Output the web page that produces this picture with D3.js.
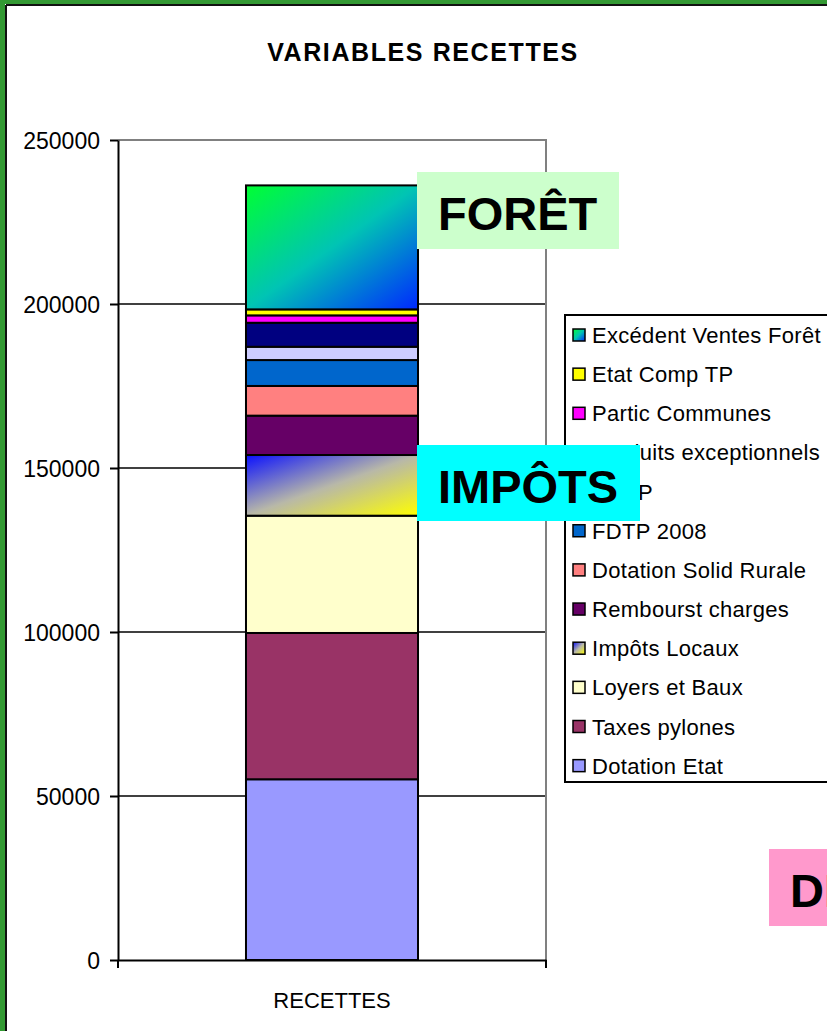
<!DOCTYPE html>
<html>
<head>
<meta charset="utf-8">
<script src="https://cdn.jsdelivr.net/npm/d3@7"></script>
<style>
  body { margin: 0; background: #fff; }
  svg text { font-family: "Liberation Sans", Arial, sans-serif; fill: #000; }
</style>
</head>
<body>
<div id="chart_01"></div>
<script>
// data (stack order: bottom to top)
const categories = ["RECETTES"];
const seriesNames = ["Dotation Etat", "Taxes pylones", "Loyers et Baux", "Impôts Locaux",
    "Rembourst charges", "Dotation Solid Rurale", "FDTP 2008", "DCTP",
    "Produits exceptionnels", "Partic Communes", "Etat Comp TP", "Excédent Ventes Forêt"];
const seriesValues = [55100, 44600, 35760, 18500, 12000, 9050, 7900, 4050, 7320, 2250, 1830, 37800];
const seriesColors = ["#9999FF", "#993366", "#FFFFCC", "url(#gradImpots)", "#660066", "#FF8080",
    "#0066CC", "#CCCCFF", "#000080", "#FF00FF", "#FFFF00", "url(#gradForet)"];
const yTicks = [0, 50000, 100000, 150000, 200000, 250000];
const chartTitle = "VARIABLES RECETTES";
const boxLabels = ["FORÊT", "IMPÔTS", "DÉPENSES"];

window.onload = function () {
    drawChart();
};

function drawChart() {
    let width = 827, height = 1031;

    let svg = d3.select("#chart_01")
        .append("svg")
        .attr("width", width)
        .attr("height", height);

    // gradients used by two of the series
    let defs = svg.append("defs");
    let g1 = defs.append("linearGradient").attr("id", "gradForet")
        .attr("x1", 0).attr("y1", 0).attr("x2", 1).attr("y2", 1);
    g1.append("stop").attr("offset", "0%").attr("stop-color", "#00FF33");
    g1.append("stop").attr("offset", "50%").attr("stop-color", "#00C4B4");
    g1.append("stop").attr("offset", "100%").attr("stop-color", "#0028FF");
    let g2 = defs.append("linearGradient").attr("id", "gradImpots")
        .attr("x1", 0).attr("y1", 0).attr("x2", 1).attr("y2", 1);
    g2.append("stop").attr("offset", "0%").attr("stop-color", "#0A10FF");
    g2.append("stop").attr("offset", "50%").attr("stop-color", "#B8B8A8");
    g2.append("stop").attr("offset", "100%").attr("stop-color", "#FFFF00");

    // green frame (only top and left are visible in the crop)
    svg.append("rect").attr("x", 0).attr("y", 0).attr("width", width).attr("height", 4).attr("fill", "#339933");
    svg.append("rect").attr("x", 0).attr("y", 0).attr("width", 5).attr("height", height).attr("fill", "#339933");
    svg.append("line").attr("x1", 6).attr("x2", width).attr("y1", 5).attr("y2", 5)
        .attr("stroke", "#111").attr("stroke-width", 2);
    svg.append("line").attr("x1", 6).attr("x2", 6).attr("y1", 5).attr("y2", height)
        .attr("stroke", "#111").attr("stroke-width", 2);

    // title
    svg.append("text")
        .attr("x", 423).attr("y", 61)
        .attr("text-anchor", "middle")
        .style("font-size", "25px")
        .style("font-weight", "bold")
        .style("letter-spacing", "1.6px")
        .text(chartTitle);

    let x = d3.scaleBand()
        .domain(categories)
        .range([118, 546])
        .paddingInner(0)
        .paddingOuter(0.744);

    let y = d3.scaleLinear()
        .domain([0, 250000])
        .range([960, 140]);

    // gridlines
    svg.append("g").selectAll("line")
        .data(yTicks.filter(d => d > 0 && d < 250000))
        .enter().append("line")
        .attr("x1", x.range()[0]).attr("x2", x.range()[1])
        .attr("y1", d => y(d)).attr("y2", d => y(d))
        .attr("stroke", "#000").attr("stroke-width", 1.6);

    // plot area border (top + right, grey)
    svg.append("path")
        .attr("d", "M" + x.range()[0] + "," + y(250000) + "H" + x.range()[1] + "V" + y(0))
        .attr("fill", "none").attr("stroke", "#808080").attr("stroke-width", 2);

    // stacked segments
    let stackData = [];
    let acc = 0;
    seriesValues.forEach(function (v, i) {
        stackData.push({name: seriesNames[i], y0: acc, y1: acc + v, color: seriesColors[i]});
        acc += v;
    });

    svg.append("g").selectAll("rect")
        .data(stackData)
        .enter().append("rect")
        .attr("x", x(categories[0]))
        .attr("width", x.bandwidth())
        .attr("y", d => y(d.y1))
        .attr("height", d => y(d.y0) - y(d.y1))
        .attr("fill", d => d.color)
        .attr("stroke", "#000")
        .attr("stroke-width", 2);

    // y axis
    let yAxis = svg.append("g")
        .attr("transform", "translate(" + x.range()[0] + ",0)")
        .call(d3.axisLeft(y).tickValues(yTicks).tickFormat(d3.format("d"))
            .tickSize(8).tickSizeOuter(0).tickPadding(10));
    yAxis.select(".domain").attr("stroke", "#000").attr("stroke-width", 2);
    yAxis.selectAll(".tick line").attr("stroke", "#000").attr("stroke-width", 2);
    yAxis.selectAll("text").style("font-size", "23px").attr("dy", "0.36em")
        .style("font-family", "'Liberation Sans', Arial, sans-serif");

    // x axis
    let xAxis = svg.append("g")
        .attr("transform", "translate(0," + y(0) + ")")
        .call(d3.axisBottom(x).tickSize(0).tickSizeOuter(0).tickPadding(32));
    xAxis.select(".domain").attr("stroke", "#000").attr("stroke-width", 2);
    xAxis.selectAll("text").style("font-size", "22px")
        .style("font-family", "'Liberation Sans', Arial, sans-serif");
    xAxis.selectAll("line.edge")
        .data(x.range())
        .enter().append("line")
        .attr("class", "edge")
        .attr("x1", d => d).attr("x2", d => d)
        .attr("y1", 0).attr("y2", 8)
        .attr("stroke", "#000").attr("stroke-width", 2);

    // legend (reversed order, like Excel)
    let legend = svg.append("g").attr("transform", "translate(565,315)");
    legend.append("rect")
        .attr("x", 0).attr("y", 0)
        .attr("width", 300).attr("height", 467)
        .attr("fill", "#fff").attr("stroke", "#000").attr("stroke-width", 2);

    let items = legend.selectAll("g.item")
        .data(stackData.slice().reverse())
        .enter().append("g")
        .attr("class", "item")
        .attr("transform", (d, i) => "translate(0," + (20 + i * 39.15) + ")");
    items.append("rect")
        .attr("x", 8).attr("y", -6)
        .attr("width", 12).attr("height", 12)
        .attr("fill", d => d.color)
        .attr("stroke", "#000").attr("stroke-width", 1.5);
    items.append("text")
        .attr("x", 27).attr("y", 8)
        .style("font-size", "22px")
        .style("letter-spacing", "0.3px")
        .text(d => d.name);

    // text boxes put on top of the chart
    let boxes = [
        {text: boxLabels[0], x: 417, y: 172, w: 202, h: 77, fill: "#CCFFCC"},
        {text: boxLabels[1], x: 417, y: 445, w: 223, h: 76, fill: "#00FFFF"},
        {text: boxLabels[2], x: 769, y: 849, w: 240, h: 77, fill: "#FF99CC"}
    ];
    let bg = svg.append("g").selectAll("g")
        .data(boxes)
        .enter().append("g");
    bg.append("rect")
        .attr("x", d => d.x).attr("y", d => d.y)
        .attr("width", d => d.w).attr("height", d => d.h)
        .attr("fill", d => d.fill);
    bg.append("text")
        .attr("x", d => d.x + 21)
        .attr("y", d => d.y + 58)
        .style("font-size", "47px")
        .style("font-weight", "bold")
        .text(d => d.text);
}
</script>
</body>
</html>
